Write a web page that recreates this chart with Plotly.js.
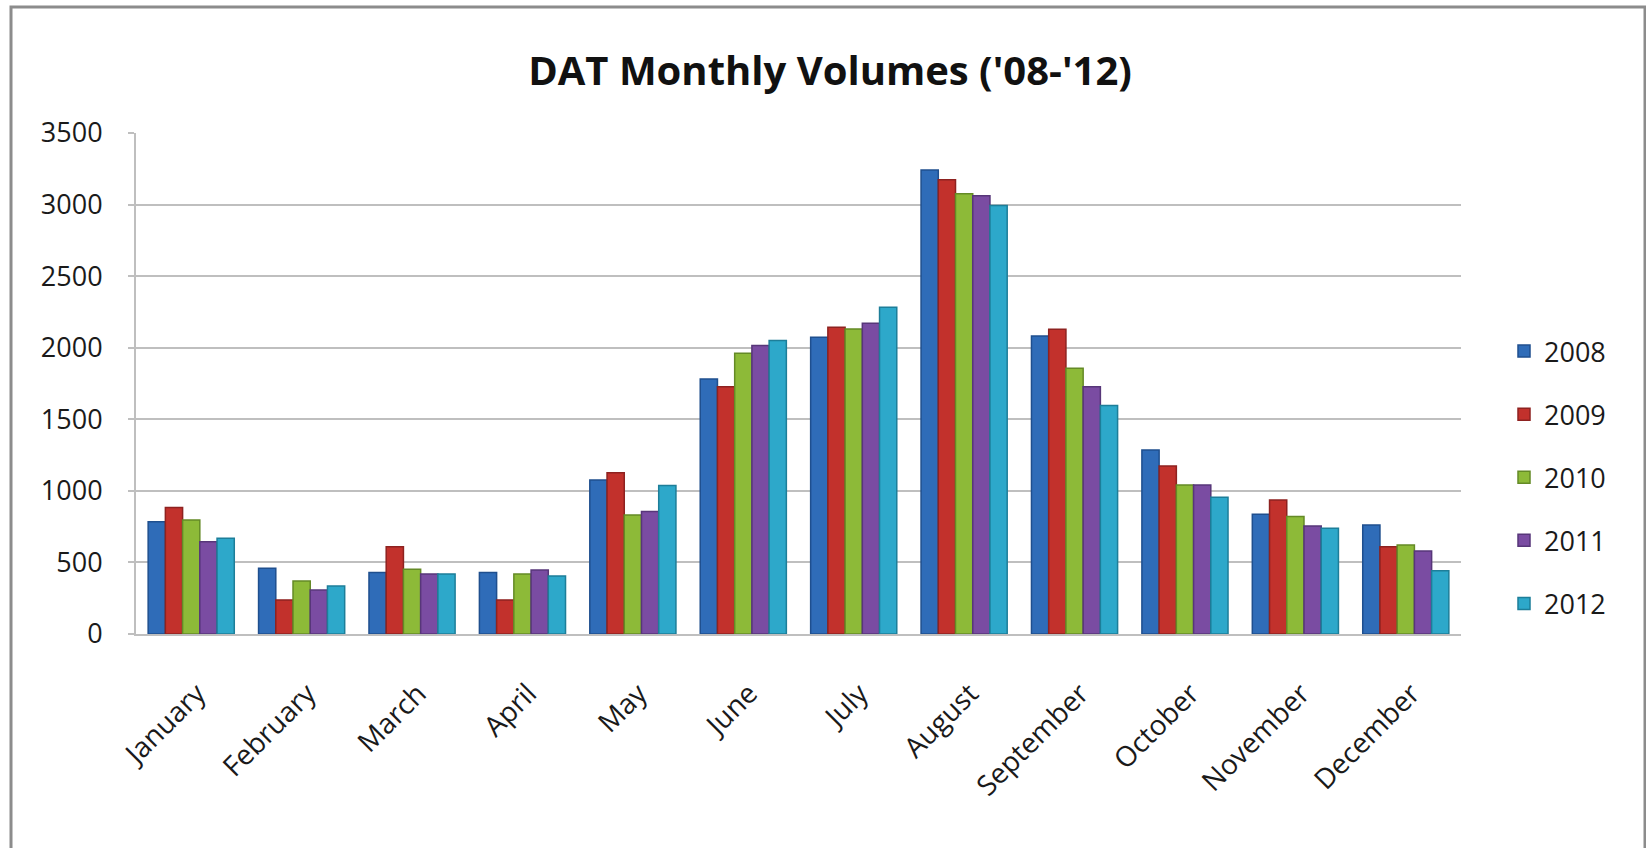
<!DOCTYPE html>
<html>
<head>
<meta charset="utf-8">
<script src="https://cdn.plot.ly/plotly-3.0.1.min.js"></script>
<style>html,body{margin:0;padding:0;background:#fff;}#chart{width:1646px;height:848px;}</style>
</head>
<body>
<div id="chart"></div>
<script>
const months = ["January","February","March","April","May","June","July","August","September","October","November","December"];
const years = ["2008","2009","2010","2011","2012"];
const v2008 = [785, 459, 429, 429, 1076, 1782, 2073, 3242, 2082, 1286, 836, 762];
const v2009 = [883, 238, 610, 238, 1127, 1728, 2143, 3173, 2129, 1174, 936, 610];
const v2010 = [797, 370, 452, 419, 832, 1961, 2131, 3075, 1857, 1041, 820, 622];
const v2011 = [645, 307, 419, 447, 855, 2015, 2171, 3061, 1728, 1041, 755, 580];
const v2012 = [669, 335, 419, 405, 1037, 2050, 2283, 2993, 1596, 955, 738, 442];
const yTicks = [0, 500, 1000, 1500, 2000, 2500, 3000, 3500];

const seriesValues = [v2008, v2009, v2010, v2011, v2012];
const colors = ["#2F6CB8", "#C2312C", "#8DBA38", "#7A4CA2", "#2DA8CA"];
const edge = ["#1F4F8E", "#8E2220", "#648A26", "#573679", "#1D7E99"];

const traces = years.map((y, i) => ({
  type: "bar",
  name: y,
  x: months,
  y: seriesValues[i],
  legendgroup: y,
  marker: {color: colors[i], line: {color: edge[i], width: 1.5}},
  hoverinfo: "x+y+name"
}));

const L = 136, R = 1461, T = 133, B = 634;
const pw = R - L, ph = B - T;
const px = v => (v - L) / pw;
const py = v => (B - v) / ph;

const layout = {
  width: 1646, height: 848,
  margin: {l: L, r: 1646 - R, t: T, b: 848 - B, pad: 0},
  paper_bgcolor: "#ffffff",
  plot_bgcolor: "#ffffff",
  font: {family: "Open Sans, sans-serif", color: "#1a1a1a"},
  title: {
    text: "<b>DAT Monthly Volumes ('08-'12)</b>",
    font: {size: 40, family: "Open Sans, sans-serif", color: "#111"},
    x: 830 / 1646, xanchor: "center", xref: "container",
    y: 1 - 71 / 848, yanchor: "middle", yref: "container"
  },
  barmode: "group",
  bargap: 0.22,
  bargroupgap: 0,
  xaxis: {
    type: "category",
    tickangle: -45,
    tickfont: {size: 28, color: "#1a1a1a"},
    showline: true, linecolor: "#BFBFBF", linewidth: 2,
    ticks: "", showgrid: false,
    ticklabelstandoff: 30,
    ticklabelshift: 6,
    automargin: false
  },
  yaxis: {
    range: [0, 3500],
    tickvals: yTicks,
    ticktext: yTicks.map(String),
    tickfont: {size: 27, color: "#1a1a1a"},
    showgrid: true, gridcolor: "#BFBFBF", gridwidth: 2,
    showline: true, linecolor: "#BFBFBF", linewidth: 2,
    ticks: "outside", ticklen: 6, tickcolor: "#BFBFBF", tickwidth: 2,
    ticklabelstandoff: 20,
    zeroline: false,
    automargin: false
  },
  legend: {
    x: px(1504), xanchor: "left",
    y: py(327), yanchor: "top",
    font: {size: 27, color: "#1a1a1a"},
    tracegroupgap: 25,
    itemwidth: 30,
    bgcolor: "rgba(0,0,0,0)"
  },
  shapes: [{
    type: "rect", xref: "paper", yref: "paper",
    x0: px(11), x1: px(1645), y0: py(860), y1: py(7),
    line: {color: "#8C8C8C", width: 3}, fillcolor: "rgba(0,0,0,0)", layer: "below"
  }]
};

Plotly.newPlot("chart", traces, layout, {displayModeBar: false, staticPlot: true});
</script>
</body>
</html>
